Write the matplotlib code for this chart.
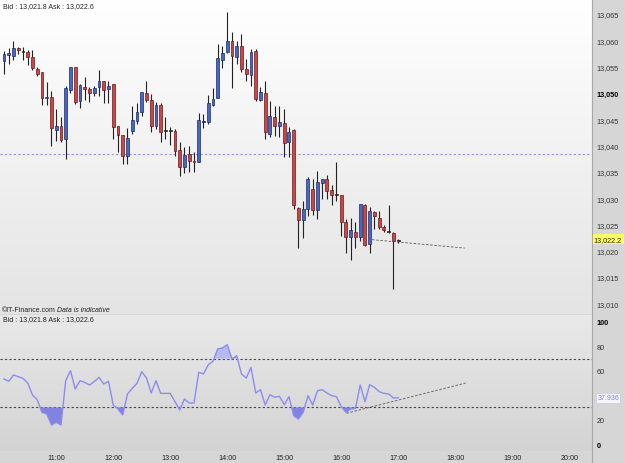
import numpy as np
import matplotlib
matplotlib.use("Agg")
import matplotlib.pyplot as plt
from matplotlib.colors import LinearSegmentedColormap
from matplotlib.transforms import blended_transform_factory

plt.rcParams['font.family'] = ['Liberation Sans', 'DejaVu Sans']

# 5 minute candles, 10:05 .. 17:00 (index 0 = 10:05)
opens = [13056.1, 13057.2, 13057.1, 13058.5, 13057.8, 13057.8, 13056.8, 13054.6, 13054.0, 13049.0,
         13049.2, 13043.0, 13043.7, 13041.3, 13050.6, 13054.9, 13048.4, 13051.1, 13050.7, 13049.9,
         13051.1, 13052.2, 13050.7, 13051.7, 13043.7, 13042.0, 13038.1, 13042.8, 13044.7, 13046.4,
         13049.9, 13048.7, 13043.7, 13047.7, 13042.9, 13042.8, 13042.7, 13039.2, 13035.9, 13038.4,
         13037.1, 13036.9, 13044.5, 13044.4, 13047.7, 13049.1, 13056.3, 13057.7, 13059.8, 13056.8,
         13058.9, 13054.6, 13053.4, 13058.0, 13048.7, 13050.0, 13042.2, 13045.5, 13043.7, 13044.3,
         13040.6, 13043.0, 13028.1, 13025.9, 13027.9, 13031.7, 13027.8, 13032.9, 13033.6, 13031.6,
         13030.6, 13030.5, 13025.4, 13022.6, 13023.6, 13022.6, 13028.7, 13021.3, 13027.4, 13026.3,
         13024.5, 13023.7, 13023.4, 13021.9]
highs = [13058.0, 13058.5, 13059.9, 13058.8, 13058.7, 13058.2, 13058.2, 13054.9, 13054.0, 13052.1,
         13050.4, 13046.9, 13045.4, 13051.3, 13055.0, 13055.0, 13051.6, 13053.0, 13051.1, 13051.3,
         13054.4, 13052.3, 13052.2, 13051.7, 13043.7, 13042.0, 13043.3, 13047.5, 13048.1, 13050.2,
         13052.3, 13049.8, 13048.2, 13048.1, 13045.4, 13043.5, 13043.2, 13040.6, 13039.7, 13040.0,
         13038.7, 13046.2, 13046.0, 13049.6, 13050.9, 13059.3, 13059.0, 13065.4, 13061.5, 13059.9,
         13061.2, 13056.5, 13058.4, 13058.4, 13051.1, 13052.3, 13048.5, 13047.6, 13047.6, 13047.0,
         13043.5, 13043.2, 13028.3, 13029.5, 13034.0, 13033.6, 13035.2, 13033.6, 13034.3, 13032.4,
         13036.9, 13030.5, 13026.0, 13026.3, 13025.4, 13028.9, 13028.9, 13028.3, 13027.6, 13027.6,
         13024.9, 13028.6, 13023.5, 13022.3]
lows = [13053.6, 13055.5, 13056.3, 13057.4, 13056.3, 13055.3, 13054.4, 13053.2, 13047.7, 13047.7,
        13039.9, 13040.9, 13040.7, 13037.4, 13050.0, 13047.9, 13047.1, 13048.7, 13048.3, 13049.5,
        13049.5, 13048.1, 13048.1, 13041.3, 13038.7, 13036.5, 13036.5, 13042.2, 13044.0, 13045.7,
        13048.2, 13042.5, 13043.2, 13040.6, 13041.3, 13040.1, 13038.1, 13034.2, 13034.8, 13035.0,
        13034.9, 13036.8, 13043.3, 13044.1, 13047.6, 13049.0, 13054.7, 13057.6, 13050.9, 13055.5,
        13054.0, 13052.3, 13051.3, 13048.5, 13048.5, 13041.3, 13041.6, 13041.9, 13041.6, 13037.8,
        13037.8, 13027.9, 13020.5, 13022.4, 13026.6, 13026.7, 13026.0, 13029.8, 13029.8, 13028.6,
        13029.5, 13022.8, 13019.6, 13018.3, 13020.5, 13021.9, 13020.9, 13019.6, 13024.1, 13024.1,
        13023.5, 13023.4, 13012.7, 13021.4]
closes = [13057.4, 13057.5, 13058.5, 13058.1, 13058.0, 13056.8, 13054.7, 13053.5, 13049.0, 13049.3,
          13043.3, 13043.8, 13041.1, 13050.9, 13055.0, 13048.3, 13051.5, 13050.7, 13049.9, 13050.9,
          13052.2, 13050.6, 13051.4, 13043.5, 13042.0, 13038.1, 13041.4, 13044.9, 13046.3, 13050.1,
          13048.7, 13043.8, 13047.7, 13042.5, 13042.8, 13042.9, 13039.0, 13035.9, 13038.2, 13037.1,
          13036.8, 13044.9, 13044.6, 13048.0, 13048.9, 13056.6, 13057.6, 13059.8, 13057.0, 13059.0,
          13054.6, 13053.5, 13057.7, 13048.9, 13050.1, 13042.5, 13045.6, 13043.8, 13044.4, 13040.5,
          13042.6, 13028.6, 13025.9, 13027.9, 13033.6, 13027.8, 13033.0, 13033.6, 13031.4, 13030.5,
          13030.5, 13025.4, 13022.6, 13023.9, 13022.6, 13028.9, 13021.1, 13027.6, 13026.6, 13024.6,
          13023.9, 13023.6, 13021.9, 13021.8]

# RSI, one value per candle
rsi = [53.3, 51.4, 56.6, 55.2, 53.8, 50.0, 40.2, 36.3, 26.0, 24.6,
       15.6, 17.8, 15.6, 51.9, 60.1, 45.1, 51.9, 50.5, 48.4, 51.1,
       54.6, 49.2, 51.4, 32.0, 28.7, 23.8, 41.0, 45.6, 49.7, 59.3,
       54.1, 41.8, 51.9, 41.5, 41.5, 41.5, 34.7, 27.9, 36.9, 33.6,
       33.6, 58.7, 57.4, 64.8, 67.8, 77.9, 78.7, 81.4, 69.7, 72.4,
       57.4, 54.1, 62.8, 41.8, 44.5, 32.0, 40.4, 38.3, 39.1, 32.2,
       38.8, 23.2, 20.5, 26.0, 39.6, 32.0, 43.7, 44.5, 41.8, 39.6,
       38.8, 30.6, 26.0, 28.7, 29.2, 48.4, 34.7, 48.6, 46.4, 42.9,
       41.5, 41.0, 37.7, 37.9]

hour_ticks = [11, 23, 35, 47, 59, 71, 83, 95, 107, 119]
hour_labels = ['11:00', '12:00', '13:00', '14:00', '15:00', '16:00', '17:00', '18:00', '19:00', '20:00']
price_ticks = [13010, 13015, 13020, 13025, 13030, 13035, 13040, 13045, 13050, 13055, 13060, 13065]
rsi_ticks = [0, 20, 40, 60, 80, 100]

price_trend = ([77.5, 97.0], [13022.1, 13020.5])
rsi_trend = ([72.1, 97.2], [25.2, 50.0])
ref_level = 13038.4
last_price = 13022.2
last_rsi = 37.936

W, H = 625, 464
fig = plt.figure(figsize=(W / 100, H / 100), dpi=100, facecolor='#d6d6d6')
ax1 = fig.add_axes([0, 1 - 315 / H, 592 / W, 315 / H])
ax2 = fig.add_axes([0, 1 - 452 / H, 592 / W, 136 / H])


def gradient(ax, bottom, top):
    cmap = LinearSegmentedColormap.from_list('bg', [bottom, top])
    g = np.linspace(0, 1, 256).reshape(-1, 1)
    ax.imshow(g, extent=[0, 1, 0, 1], transform=ax.transAxes, cmap=cmap,
              aspect='auto', origin='lower', zorder=0)


gradient(ax1, '#e4e4e4', '#ffffff')
gradient(ax2, '#d3d3d3', '#e9e9e9')

idx = np.arange(len(closes))
o = np.array(opens)
c = np.array(closes)
hi = np.array(highs)
lo = np.array(lows)

# candles
ax1.vlines(idx, lo, hi, color='#222222', lw=0.8, zorder=2)
up = c >= o
body_lo = np.minimum(o, c)
body_h = np.maximum(np.abs(c - o), 0.2)
doji = np.abs(c - o) < 0.25
fc = np.where(doji, '#222222', np.where(up, '#4868c0', '#c84848'))
ec = np.where(doji, '#222222', np.where(up, '#1c2c70', '#701818'))
ax1.bar(idx, body_h, bottom=body_lo, width=0.62, color=fc, edgecolor=ec, lw=0.5, zorder=3)

ax1.axhline(ref_level, color='#8898dd', lw=0.8, ls=(0, (2, 2)), zorder=1)
ax1.plot(price_trend[0], price_trend[1], color='#555555', lw=0.6, ls=(0, (3, 2)), zorder=4)

ax1.set_xlim(-0.84, 123.8)
ax1.set_ylim(13007.97, 13067.85)
ax1.set_xticks([])
ax1.yaxis.tick_right()
ax1.set_yticks(price_ticks)
ax1.set_yticklabels([f'{t:,}' for t in price_ticks])
ax1.tick_params(axis='y', length=0, pad=3.5, labelsize=5.2, labelcolor='#333333')
for lbl in ax1.get_yticklabels():
    if lbl.get_text() == '13,050':
        lbl.set_fontweight('bold')
        lbl.set_color('#000000')

tr = blended_transform_factory(ax1.transAxes, ax1.transData)
ax1.text(1.003, last_price, f'{last_price:,.1f}', transform=tr, fontsize=5.2, va='center',
         ha='left', color='#222222', zorder=6, clip_on=False,
         bbox=dict(boxstyle='square,pad=0.25', fc='#ffff66', ec='none'))

# RSI panel
ax2.plot(idx, rsi, color='#8c8cf0', lw=1.0, zorder=3)
r = np.array(rsi)
ax2.fill_between(idx, r, 30, where=r < 30, interpolate=True, color='#8282e0', lw=0, zorder=2)
ax2.fill_between(idx, r, 70, where=r > 70, interpolate=True, color='#b8b8f2', lw=0, zorder=2)
for lvl in (30, 70):
    ax2.axhline(lvl, color='#444444', lw=0.8, ls=(0, (2, 2)), zorder=1)
ax2.plot(rsi_trend[0], rsi_trend[1], color='#555555', lw=0.6, ls=(0, (3, 2)), zorder=4)

ax2.set_xlim(-0.84, 123.8)
ax2.set_ylim(-5.7, 105.7)
ax2.yaxis.tick_right()
ax2.set_yticks(rsi_ticks)
ax2.set_yticklabels([str(t) for t in rsi_ticks])
ax2.tick_params(axis='y', length=0, pad=3.5, labelsize=5.2, labelcolor='#333333')
for lbl in ax2.get_yticklabels():
    if lbl.get_text() in ('0', '100'):
        lbl.set_fontweight('bold')
        lbl.set_color('#000000')
ax2.set_xticks(hour_ticks)
ax2.set_xticklabels(hour_labels)
ax2.tick_params(axis='x', length=0, pad=2.5, labelsize=5.2, labelcolor='#222222')

tr2 = blended_transform_factory(ax2.transAxes, ax2.transData)
ax2.text(1.009, last_rsi, f'{last_rsi:.3f}', transform=tr2, fontsize=5, va='center',
         ha='left', color='#8080e0', zorder=6, clip_on=False,
         bbox=dict(boxstyle='square,pad=0.2', fc='#f4f4ff', ec='#c8c8e8', lw=0.5))

for ax in (ax1, ax2):
    for s in ax.spines.values():
        s.set_visible(False)

fig.add_artist(plt.Line2D([592 / W, 592 / W], [0, 1], color='#a8a8a8', lw=0.8))

fig.text(3 / W, 1 - 3 / H, 'Bid : 13,021.8 Ask : 13,022.6', fontsize=5, va='top',
         ha='left', color='#222222')
fig.text(3 / W, 1 - 320 / H, 'Bid : 13,021.8 Ask : 13,022.6', fontsize=5, va='center',
         ha='left', color='#222222')
fig.text(2 / W, 1 - 310.5 / H, '\u00a9IT-Finance.com', fontsize=5, va='center',
         ha='left', color='#222222')
fig.text(57 / W, 1 - 310.5 / H, 'Data is indicative', fontsize=5, va='center',
         ha='left', color='#222222', style='italic')

fig.savefig('out.png', dpi=100, facecolor=fig.get_facecolor())
